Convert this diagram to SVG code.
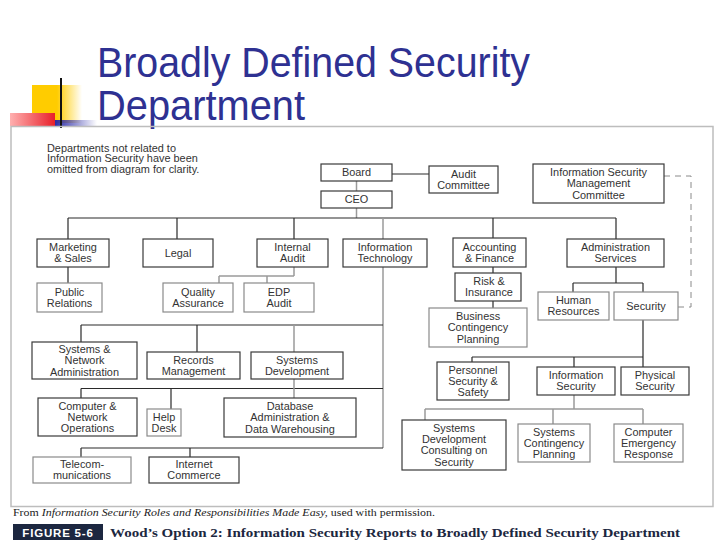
<svg xmlns="http://www.w3.org/2000/svg" width="720" height="540" viewBox="0 0 720 540">
<style>
.bx{fill:#fff;stroke:#3a3a3a;stroke-width:1.2}
.bg{fill:#fff;stroke:#8a8a8a;stroke-width:1.2}
.t{font-family:"Liberation Sans",Arial,sans-serif;font-size:10.9px;fill:#333;text-anchor:middle}
.ln{fill:none;stroke:#2a2a2a;stroke-width:1.2}
.lg{fill:none;stroke:#9a9a9a;stroke-width:1.5}
.ds{fill:none;stroke:#8a8a8a;stroke-width:1;stroke-dasharray:6 5}
</style>
<defs>
<linearGradient id="gy" x1="0" y1="0" x2="1" y2="0"><stop offset="0" stop-color="#ffcc00"/><stop offset="0.5" stop-color="#ffcc00"/><stop offset="1" stop-color="#ffcc00" stop-opacity="0"/></linearGradient>
<linearGradient id="gr" x1="0" y1="0" x2="1" y2="0"><stop offset="0" stop-color="#ffb0b0"/><stop offset="1" stop-color="#e8202a"/></linearGradient>
<linearGradient id="gb" x1="0" y1="0" x2="1" y2="0"><stop offset="0" stop-color="#2a2aa8"/><stop offset="1" stop-color="#2a2aa8" stop-opacity="0"/></linearGradient>
</defs>
<rect width="720" height="540" fill="#fff"/>
<g id="decor">
<rect x="32" y="85" width="50" height="38" fill="url(#gy)"/>
<rect x="55" y="120" width="42" height="6" fill="url(#gb)"/>
<rect x="10" y="113" width="45" height="13" fill="url(#gr)"/>
<line x1="61" y1="78" x2="61" y2="128" stroke="#111" stroke-width="2"/>
</g>
<g id="title" font-family="'Liberation Sans',Arial,sans-serif" font-size="42" fill="#2e3192">
<text x="97" y="77" textLength="433" lengthAdjust="spacingAndGlyphs">Broadly Defined Security</text>
<text x="97" y="120" textLength="208" lengthAdjust="spacingAndGlyphs">Department</text>
</g>
<rect id="frame" x="11" y="126.5" width="702" height="380" fill="none" stroke="#bdbdbd" stroke-width="1.5"/>
<g id="note" font-family="'Liberation Sans',Arial,sans-serif" font-size="10.9" fill="#333">
<text x="47" y="151.5">Departments not related to</text>
<text x="47" y="162.2">Information Security have been</text>
<text x="47" y="172.8">omitted from diagram for clarity.</text>
</g>
<g id="connectors">
<path class="lg" d="M356.5 181V191M356.5 208V218"/>
<path class="ln" d="M392 174H429"/>
<path class="ln" d="M68 218H616M68 218V239M177 218V239M294 218V239M493 218V238M616 218V239"/>
<path class="lg" d="M383 218V239M383 267V448"/>
<path class="ln" d="M68 267V283"/>
<path class="lg" d="M294 267V276M219 276H294M219 276V283M267 276V283"/>
<path class="ln" d="M493 267V273M493 301V308"/>
<path class="ln" d="M616 267V283M573 283H643M573 283V292M643 283V292"/>
<path class="ds" d="M664 176H691V307H678"/>
<path class="ln" d="M643 320V357M472 357H643M472 357V362M574 357V367M643 357V367"/>
<path class="lg" d="M574 395V409M425 409H643M425 409V420M553 409V424M643 409V424"/>
<path class="ln" d="M81 325H383M81 325V342M197 325V352"/>
<path class="lg" d="M294 325V352"/>
<path class="ln" d="M81 388.5H383M81 388.5V398M171 388.5V409"/>
<path class="lg" d="M294 379V398"/>
<path class="ln" d="M81 448H383M81 448V457M190 448V457"/>
</g>
<g id="board"><rect class="bx" x="321" y="164" width="71" height="17"/><text class="t" x="356.5" y="176.3">Board</text></g>
<g id="ceo"><rect class="bx" x="321" y="191" width="71" height="17"/><text class="t" x="356.5" y="203.3">CEO</text></g>
<g id="audit-committee"><rect class="bx" x="429" y="166" width="69" height="27"/><text class="t" x="463.5" y="177.7">Audit<tspan x="463.5" y="188.9">Committee</tspan></text></g>
<g id="ismc"><rect class="bx" x="533" y="164" width="131" height="39"/><text class="t" x="598.5" y="176.1">Information Security<tspan x="598.5" y="187.3">Management</tspan><tspan x="598.5" y="198.5">Committee</tspan></text></g>
<g id="marketing"><rect class="bx" x="37" y="239" width="72" height="28"/><text class="t" x="73" y="251.2">Marketing<tspan x="73" y="262.4">&amp; Sales</tspan></text></g>
<g id="legal"><rect class="bx" x="143" y="239" width="70" height="28"/><text class="t" x="178" y="256.8">Legal</text></g>
<g id="internal-audit"><rect class="bx" x="257" y="239" width="71" height="28"/><text class="t" x="292.5" y="251.2">Internal<tspan x="292.5" y="262.4">Audit</tspan></text></g>
<g id="it"><rect class="bx" x="343" y="239" width="84" height="28"/><text class="t" x="385" y="251.2">Information<tspan x="385" y="262.4">Technology</tspan></text></g>
<g id="accounting"><rect class="bx" x="453" y="238" width="73" height="29"/><text class="t" x="489.5" y="250.7">Accounting<tspan x="489.5" y="261.9">&amp; Finance</tspan></text></g>
<g id="admin"><rect class="bx" x="567" y="239" width="97" height="28"/><text class="t" x="615.5" y="251.2">Administration<tspan x="615.5" y="262.4">Services</tspan></text></g>
<g id="public-relations"><rect class="bg" x="37" y="283" width="65" height="29"/><text class="t" x="69.5" y="295.7">Public<tspan x="69.5" y="306.9">Relations</tspan></text></g>
<g id="qa"><rect class="bg" x="163" y="283" width="70" height="29"/><text class="t" x="198" y="295.7">Quality<tspan x="198" y="306.9">Assurance</tspan></text></g>
<g id="edp"><rect class="bg" x="244" y="283" width="70" height="29"/><text class="t" x="279" y="295.7">EDP<tspan x="279" y="306.9">Audit</tspan></text></g>
<g id="risk"><rect class="bx" x="455" y="273" width="66" height="28"/><text class="t" x="489" y="285.2">Risk &amp;<tspan x="489" y="296.4">Insurance</tspan></text></g>
<g id="bcp"><rect class="bg" x="429" y="308" width="98" height="39"/><text class="t" x="478" y="320.1">Business<tspan x="478" y="331.3">Contingency</tspan><tspan x="478" y="342.5">Planning</tspan></text></g>
<g id="hr"><rect class="bg" x="538" y="292" width="71" height="28"/><text class="t" x="573.5" y="304.2">Human<tspan x="573.5" y="315.4">Resources</tspan></text></g>
<g id="security"><rect class="bg" x="614" y="292" width="64" height="28"/><text class="t" x="646" y="309.8">Security</text></g>
<g id="sysnet"><rect class="bx" x="32" y="342" width="105" height="37"/><text class="t" x="84.5" y="353.1">Systems &amp;<tspan x="84.5" y="364.3">Network</tspan><tspan x="84.5" y="375.5">Administration</tspan></text></g>
<g id="records"><rect class="bx" x="147" y="352" width="93" height="27"/><text class="t" x="193.5" y="363.7">Records<tspan x="193.5" y="374.9">Management</tspan></text></g>
<g id="sysdev"><rect class="bx" x="251" y="352" width="92" height="27"/><text class="t" x="297" y="363.7">Systems<tspan x="297" y="374.9">Development</tspan></text></g>
<g id="personnel"><rect class="bx" x="437" y="362" width="72" height="38"/><text class="t" x="473" y="373.6">Personnel<tspan x="473" y="384.8">Security &amp;</tspan><tspan x="473" y="396">Safety</tspan></text></g>
<g id="infosec"><rect class="bx" x="537" y="367" width="78" height="28"/><text class="t" x="576" y="379.2">Information<tspan x="576" y="390.4">Security</tspan></text></g>
<g id="physical"><rect class="bx" x="621" y="367" width="68" height="28"/><text class="t" x="655" y="379.2">Physical<tspan x="655" y="390.4">Security</tspan></text></g>
<g id="compnet"><rect class="bx" x="38" y="398" width="99" height="38"/><text class="t" x="87.5" y="409.6">Computer &amp;<tspan x="87.5" y="420.8">Network</tspan><tspan x="87.5" y="432">Operations</tspan></text></g>
<g id="helpdesk"><rect class="bg" x="147" y="409" width="34" height="27"/><text class="t" x="164" y="420.7">Help<tspan x="164" y="431.9">Desk</tspan></text></g>
<g id="database"><rect class="bx" x="224" y="398" width="132" height="39"/><text class="t" x="290" y="410.1">Database<tspan x="290" y="421.3">Administration &amp;</tspan><tspan x="290" y="432.5">Data Warehousing</tspan></text></g>
<g id="sdcs"><rect class="bx" x="402" y="420" width="104" height="50"/><text class="t" x="454" y="432">Systems<tspan x="454" y="443.2">Development</tspan><tspan x="454" y="454.4">Consulting on</tspan><tspan x="454" y="465.6">Security</tspan></text></g>
<g id="scp"><rect class="bg" x="518" y="424" width="72" height="38"/><text class="t" x="554" y="435.6">Systems<tspan x="554" y="446.8">Contingency</tspan><tspan x="554" y="458">Planning</tspan></text></g>
<g id="cer"><rect class="bg" x="614" y="424" width="69" height="38"/><text class="t" x="648.5" y="435.6">Computer<tspan x="648.5" y="446.8">Emergency</tspan><tspan x="648.5" y="458">Response</tspan></text></g>
<g id="telecom"><rect class="bg" x="33" y="457" width="98" height="26"/><text class="t" x="82" y="468.2">Telecom-<tspan x="82" y="479.4">munications</tspan></text></g>
<g id="internet"><rect class="bx" x="149" y="457" width="90" height="26"/><text class="t" x="194" y="468.2">Internet<tspan x="194" y="479.4">Commerce</tspan></text></g>
<g id="caption" font-family="'Liberation Serif','Times New Roman',serif">
<text x="13" y="516" font-size="11" fill="#222" textLength="422" lengthAdjust="spacingAndGlyphs">From <tspan font-style="italic">Information Security Roles and Responsibilities Made Easy,</tspan> used with permission.</text>
<rect x="13" y="524" width="90" height="16" fill="#1c2740"/>
<text x="58" y="536.5" font-family="'Liberation Sans',Arial,sans-serif" font-size="11.5" font-weight="bold" fill="#fff" text-anchor="middle" letter-spacing="0.8">FIGURE 5-6</text>
<text x="110" y="537" font-size="12.5" font-weight="bold" fill="#1c2740" textLength="570" lengthAdjust="spacingAndGlyphs">Wood’s Option 2: Information Security Reports to Broadly Defined Security Department</text>
</g>
</svg>
